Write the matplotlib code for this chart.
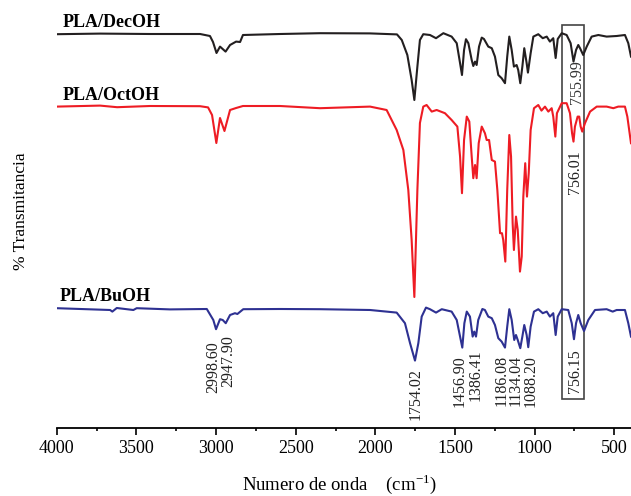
import matplotlib
matplotlib.use("Agg")
import matplotlib.pyplot as plt
from matplotlib.patches import Rectangle
from matplotlib.ticker import MultipleLocator

plt.rcParams['font.family'] = ['Liberation Serif', 'DejaVu Serif']
plt.rcParams['mathtext.fontset'] = 'custom'
plt.rcParams['mathtext.rm'] = 'Liberation Serif'

# espectros (numero de onda, % transmitancia)
dec_wn = [4000, 3728, 3414, 3100, 3038, 3019, 2997, 2975, 2940, 2912, 2874, 2849, 2831,
          2598, 2347, 2033, 1864, 1834, 1799, 1772, 1755, 1736, 1720, 1699, 1657, 1619,
          1573, 1521, 1489, 1468, 1456, 1443, 1431, 1416, 1395, 1385, 1374, 1364, 1349,
          1332, 1318, 1291, 1269, 1249, 1228, 1207, 1186, 1172, 1159, 1144, 1130, 1113,
          1103, 1090, 1077, 1065, 1050, 1042, 1025, 1008, 977, 949, 924, 904, 883, 868,
          855, 830, 799, 774, 756, 740, 726, 715, 695, 673, 642, 600, 548, 485, 433, 412, 395]
dec_t = [99.9, 100.2, 100, 100, 99, 96, 90.5, 93.7, 91.2, 94.5, 96.2, 96, 99.5,
         100, 100.4, 100.3, 99.8, 97, 89.5, 77, 67, 83.7, 97, 99.9, 99.5, 97.9,
         100.4, 98.7, 95.4, 85.4, 79.5, 92, 97.4, 95.4, 87, 84, 86.2, 84.5, 93.7,
         98.2, 97.5, 93.7, 92.9, 88.7, 79.5, 77.9, 75.4, 88.7, 98.7, 92, 83.7, 84.5,
         82, 75.4, 83.7, 92.9, 85.4, 80.7, 90.4, 98.7, 99.9, 97.9, 98.7, 96.2, 97.9, 88,
         97.5, 100.4, 99.5, 95.4, 86.2, 92, 94.5, 92.9, 89.5, 93.7, 98.7, 99.5, 98.7, 99, 99.5, 95.4, 88.7]

oct_wn = [4000, 3728, 3621, 3414, 3100, 3050, 3025, 2998, 2975, 2947, 2912, 2874, 2831,
          2598, 2347, 2033, 1929, 1866, 1824, 1793, 1772, 1755, 1736, 1720, 1699, 1678,
          1646, 1615, 1563, 1521, 1485, 1468, 1456, 1443, 1426, 1410, 1395, 1385, 1374,
          1364, 1351, 1332, 1312, 1301, 1286, 1269, 1249, 1234, 1217, 1205, 1197, 1184,
          1172, 1159, 1148, 1138, 1130, 1117, 1106, 1092, 1081, 1071, 1059, 1048, 1037,
          1025, 1004, 977, 957, 935, 914, 893, 883, 870, 860, 830, 799, 778, 765, 756,
          747, 730, 720, 711, 701, 684, 652, 610, 548, 506, 475, 433, 418, 395]
oct_t = [99.2, 99.7, 98.9, 99.5, 99.4, 98.8, 95, 81, 93.5, 87, 97.5, 98.5, 99.5,
         99.5, 98.4, 99.2, 97.5, 87.5, 77.5, 57.5, 32.5, 4, 57.5, 91, 99.2, 100,
         96.7, 97.5, 95.9, 92.5, 89.2, 74.2, 55.9, 82.5, 94.2, 91.7, 74.2, 63.4, 70,
         63.4, 80.9, 89.2, 85.9, 82.5, 82.5, 72.5, 71.7, 57.5, 35.9, 35.9, 32.5, 21.7,
         57.5, 85, 74.2, 40.9, 27.5, 44.2, 37.5, 16.7, 24.2, 54.2, 70.9, 54.2, 65.9,
         87.5, 98.4, 100, 97.2, 99.2, 96.7, 98.4, 94.2, 84.2, 95.9, 100.9, 100.9, 95.9, 85.9, 81.7,
         89.2, 94.2, 94.2, 89.2, 86.7, 90.9, 96.7, 99.2, 99.2, 98.4, 99.2, 99.2, 94.2, 80.9]

bu_wn = [4000, 3665, 3651, 3623, 3519, 3498, 3289, 3058, 3017, 3000, 2975, 2958, 2939,
         2912, 2881, 2866, 2829, 2598, 2347, 2033, 1866, 1814, 1782, 1751, 1730, 1709,
         1682, 1657, 1619, 1583, 1521, 1489, 1468, 1454, 1441, 1426, 1406, 1389, 1379,
         1368, 1354, 1328, 1312, 1291, 1269, 1249, 1228, 1207, 1186, 1172, 1159, 1144,
         1128, 1117, 1106, 1090, 1077, 1065, 1050, 1040, 1025, 1004, 977, 949, 924, 904,
         883, 868, 855, 830, 789, 767, 753, 740, 726, 711, 690, 663, 621, 548, 510, 485,
         433, 412, 395]
bu_t = [100.9, 100, 99.2, 101, 100, 100.9, 100.3, 100.5, 95, 90.4, 95.4, 95, 93.4,
        97.5, 98.4, 98, 100.4, 100.5, 100.4, 100, 98.7, 93.4, 83.4, 74.7, 83.4, 96.7,
        101.2, 100.4, 98.7, 100.4, 99.2, 95, 86.7, 81.2, 93.4, 99.2, 96.7, 86.7, 89.2,
        86.7, 95, 100.5, 100, 96.7, 95.9, 92.5, 85.9, 84.2, 81.2, 91.7, 100.4, 95,
        85, 87.5, 85, 80.9, 86.7, 92.5, 87.5, 81.4, 91.7, 99.2, 100.4, 98.4, 99.2, 96.7,
        98.4, 87.5, 96.7, 100.4, 100, 93.4, 85.4, 93.4, 97.5, 93.4, 89.5, 95, 100, 100.4, 99.2, 100,
        100, 93.4, 86.7]

series_names = ['PLA/DecOH', 'PLA/OctOH', 'PLA/BuOH']
peak_labels = ['2998.60', '2947.90', '1754.02', '1456.90', '1386.41', '756.15']
peak_group = ['1186.08', '1134.04', '1088.20']

fig = plt.figure(figsize=(6.31, 4.96), dpi=100)
ax = fig.add_axes([0.0899, 0.1371, 0.9101, 0.8629])

# desplazamiento vertical de cada espectro
ax.plot(dec_wn, [t + 97 for t in dec_t], color='#231f20', lw=1.5)
ax.plot(oct_wn, [t + 61.5 for t in oct_t], color='#ee1c24', lw=1.5)
ax.plot(bu_wn, [t - 41 for t in bu_t], color='#2e3192', lw=1.5)

ax.set_xlim(4000, 395)
ax.set_ylim(0, 214)

# nombres de las muestras
ax.text(3960, 200.6, series_names[0], fontsize=13, fontweight='bold', va='baseline')
ax.text(3960, 164, series_names[1], fontsize=13, fontweight='bold', va='baseline')
ax.text(3979, 63.6, series_names[2], fontsize=13, fontweight='bold', va='baseline')

# etiquetas de picos (espectro BuOH)
lab_x = [3016, 2925, 1745, 1472, 1368, 747]
lab_top = [43.15, 46.5, 29.85, 36.5, 39.5, 39.5]
for s, x, y in zip(peak_labels, lab_x, lab_top):
    ax.text(x, y, s, rotation=90, ha='center', va='top', fontsize=11.5, color='#222222')
# tres picos muy juntos: un solo bloque de texto
ax.text(1117, 36.5, '\n'.join(peak_group), rotation=90, ha='center', va='top',
        fontsize=11.5, linespacing=0.85, color='#222222')
ax.text(747, 139, '756.01', rotation=90, ha='center', va='top', fontsize=11.5, color='#222222')
ax.text(734, 184, '755.99', rotation=90, ha='center', va='top', fontsize=11.5, color='#333333')

ax.add_patch(Rectangle((692, 14.5), 134, 187, fill=False, edgecolor='#444444', lw=1.2))

for s in ['top', 'right', 'left']:
    ax.spines[s].set_visible(False)
ax.spines['bottom'].set_linewidth(1.3)
ax.set_yticks([])
ax.xaxis.set_major_locator(MultipleLocator(500))
ax.xaxis.set_minor_locator(MultipleLocator(250))
ax.tick_params(axis='x', which='major', direction='out', length=5, width=1.2,
               labelsize=13, pad=4)
ax.tick_params(axis='x', which='minor', direction='out', length=2.5, width=1.2)

ax.set_xlabel(r'Numero de onda    (cm$^{\mathregular{-1}}$)', fontsize=13.5)
ax.xaxis.set_label_coords(0.493, -0.102)
ax.set_ylabel('% Transmitancia', fontsize=12.5)
ax.yaxis.set_label_coords(-0.048, 0.507)

fig.savefig('out.png', dpi=100)
